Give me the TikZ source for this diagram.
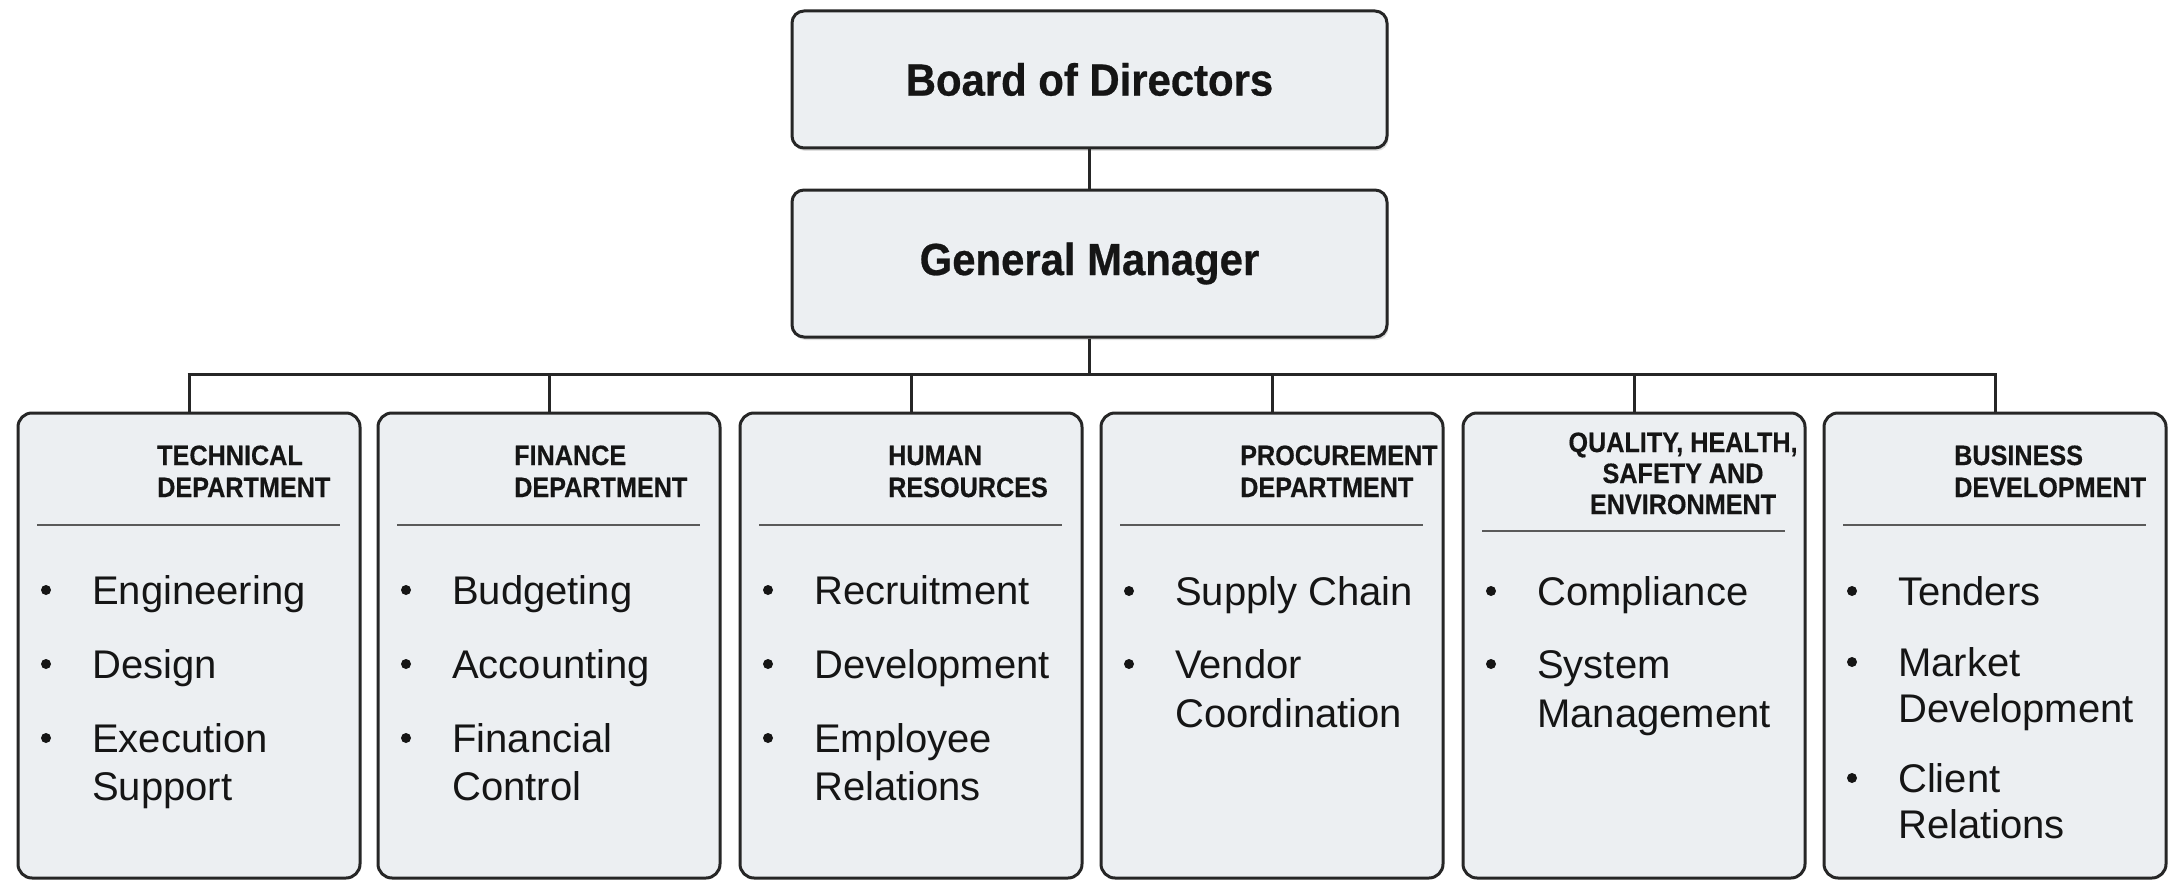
\documentclass[tikz,border=0pt]{standalone}
\usepackage{fontspec}
\setmainfont{Liberation Sans}
\newfontfamily\condfont[FakeStretch=0.9,FakeBold=0.4]{Liberation Sans}
\newfontfamily\titfont[FakeStretch=0.93,FakeBold=0.6]{Liberation Sans}
\usetikzlibrary{shadows}
\definecolor{boxfill}{HTML}{ECEFF2}
\definecolor{boxline}{HTML}{262626}
\definecolor{rulegray}{HTML}{5A5A5A}
\definecolor{txt}{HTML}{151515}
\tikzset{
  topbox/.style={draw=boxline, line width=3pt, fill=boxfill, rounded corners=12pt,
    minimum width=595pt, inner sep=0pt,
    font=\titfont\bfseries\fontsize{45}{50}\selectfont, text=txt,
    drop shadow={opacity=0.25, shadow xshift=1.5pt, shadow yshift=-3pt}},
  deptbox/.style={draw=boxline, line width=3pt, fill=boxfill, rounded corners=14pt,
    minimum width=342pt, minimum height=465pt, inner sep=0pt},
  conn/.style={draw=boxline, line width=3pt},
  divider/.style={draw=rulegray, line width=2pt},
  hd/.style={font=\condfont\bfseries\fontsize{28}{32}\selectfont, text=txt, inner sep=0pt},
  itm/.style={font=\fontsize{40}{48}\selectfont, text=txt, inner sep=0pt, anchor=base west},
  bul/.style={circle, fill=txt, minimum size=10pt, inner sep=0pt}
}
% \bitem{name}{box left}{baseline}{text}
\newcommand{\bitem}[4]{%
  \node[bul] (#1b) at ({#2+28},{#3-14}) {};
  \node[itm] (#1) at ({#2+74},{#3}) {#4};}
\newcommand{\citem}[4]{%
  \node[itm] (#1) at ({#2+74},{#3}) {#4};}
\begin{document}
\begin{tikzpicture}[x=1pt,y=-1pt]
\useasboundingbox (0,0) rectangle (2172,880);
\fill[white] (0,0) rectangle (2172,880);

% top boxes
\node[topbox, minimum height=137pt] (board) at (1089.5,79.5) {Board of Directors};
\node[topbox, minimum height=147pt] (gm) at (1089.5,263.5) {General Manager};

% department boxes
\node[deptbox] (d1) at (189,645.5) {};
\node[deptbox] (d2) at (549,645.5) {};
\node[deptbox] (d3) at (911,645.5) {};
\node[deptbox] (d4) at (1272,645.5) {};
\node[deptbox] (d5) at (1634,645.5) {};
\node[deptbox] (d6) at (1995,645.5) {};

% connectors
\coordinate (bus) at (1089.5,374);
\draw[conn] (board.south) -- (gm.north);
\draw[conn] (gm.south) -- (gm.south |- bus);
\draw[conn] ([xshift=-1.5pt]d1.north |- bus) -- ([xshift=1.5pt]d6.north |- bus);
\foreach \d in {d1,d2,d3,d4,d5,d6}{
  \draw[conn] (\d.north) -- (\d.north |- bus);
}

% headers
\node[hd, anchor=base west] (h1a) at (157,465) {TECHNICAL};
\node[hd, anchor=base west] (h1b) at (157,497) {DEPARTMENT};
\node[hd, anchor=base west] (h2a) at (514,465) {FINANCE};
\node[hd, anchor=base west] (h2b) at (514,497) {DEPARTMENT};
\node[hd, anchor=base west] (h3a) at (888,465) {HUMAN};
\node[hd, anchor=base west] (h3b) at (888,497) {RESOURCES};
\node[hd, anchor=base west] (h4a) at (1240,465) {PROCUREMENT};
\node[hd, anchor=base west] (h4b) at (1240,497) {DEPARTMENT};
\node[hd, anchor=base] (h5a) at (1683,452) {QUALITY, HEALTH,};
\node[hd, anchor=base] (h5b) at (1683,483) {SAFETY AND};
\node[hd, anchor=base] (h5c) at (1683,514) {ENVIRONMENT};
\node[hd, anchor=base west] (h6a) at (1954,465) {BUSINESS};
\node[hd, anchor=base west] (h6b) at (1954,497) {DEVELOPMENT};

% dividers
\foreach \l/\yy in {18/525, 378/525, 740/525, 1101/525, 1463/531, 1824/525}{
  \draw[divider] ({\l+19},\yy) -- ({\l+322},\yy);
}

% items
\bitem{a1}{18}{604}{Engineering}
\bitem{a2}{18}{678}{Design}
\bitem{a3}{18}{752}{Execution}
\citem{a3x}{18}{800}{Support}

\bitem{b1}{378}{604}{Budgeting}
\bitem{b2}{378}{678}{Accounting}
\bitem{b3}{378}{752}{Financial}
\citem{b3x}{378}{800}{Control}

\bitem{c1}{740}{604}{Recruitment}
\bitem{c2}{740}{678}{Development}
\bitem{c3}{740}{752}{Employee}
\citem{c3x}{740}{800}{Relations}

\bitem{e1}{1101}{605}{Supply Chain}
\bitem{e2}{1101}{678}{Vendor}
\citem{e2x}{1101}{727}{Coordination}

\bitem{f1}{1463}{605}{Compliance}
\bitem{f2}{1463}{678}{System}
\citem{f2x}{1463}{727}{Management}

\bitem{g1}{1824}{605}{Tenders}
\bitem{g2}{1824}{676}{Market}
\citem{g2x}{1824}{722}{Development}
\bitem{g3}{1824}{792}{Client}
\citem{g3x}{1824}{838}{Relations}
\end{tikzpicture}
\end{document}
